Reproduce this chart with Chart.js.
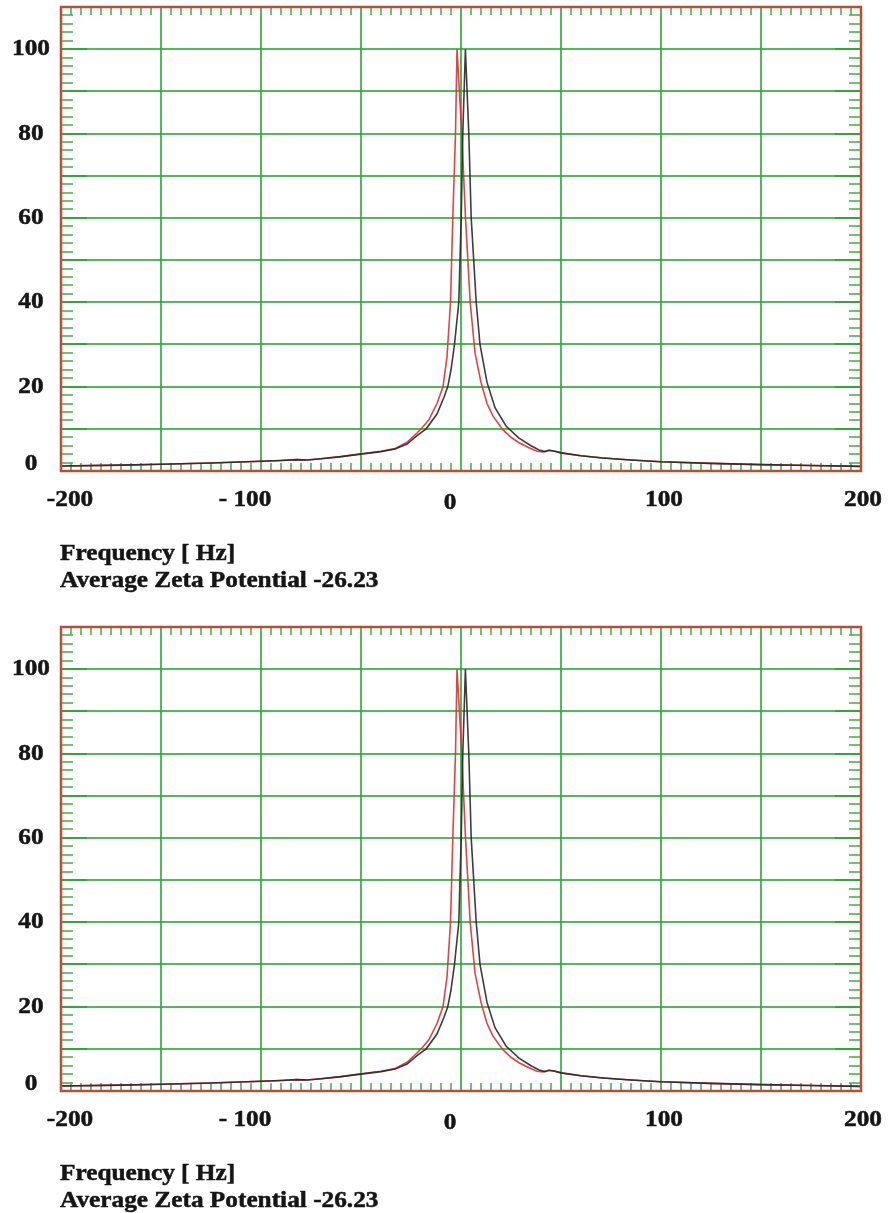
<!DOCTYPE html>
<html>
<head>
<meta charset="utf-8">
<script src="https://cdn.jsdelivr.net/npm/chart.js@4.4.1/dist/chart.umd.min.js"></script>
<style>
  html, body { margin: 0; padding: 0; background: #fff; overflow: hidden; }
  .panel { position: absolute; left: 0; width: 888px; height: 620px; }
  canvas { display: block; }
</style>
</head>
<body>
<div class="panel" style="top:0"><canvas id="chartTop" width="888" height="620"></canvas></div>
<div class="panel" style="top:620px"><canvas id="chartBottom" width="888" height="620"></canvas></div>
<script>
/* === Data === */

var redFreq = [-200, -170, -150, -125, -100, -90, -82, -77, -70, -60, -50, -40, -33, -27, -22, -19, -16, -12, -9, -7,
  -5.25, -4.1, -2.75, -2, 0.4, 2.25, 4.6, 7, 10, 13, 16, 20.9, 25, 29, 34, 38, 41, 44, 47, 50,
  60, 71, 85, 100, 125, 150, 175, 200];
var redAmp = [1.2, 1.4, 1.6, 1.9, 2.3, 2.5, 2.7, 2.6, 2.9, 3.4, 4.1, 4.7, 5.3, 6.8, 9.0, 10.5, 12.2, 16, 20, 27,
  40, 60, 80, 100, 80, 60, 40, 28, 21, 16, 13, 9.8, 8, 6.7, 5.5, 4.7, 4.5, 4.9, 4.7, 4.3,
  3.6, 3.1, 2.6, 2.2, 1.8, 1.5, 1.3, 1.1];

var blackFreq = [-200, -170, -150, -125, -100, -90, -82, -77, -70, -60, -50, -40, -33, -27, -22, -17.4, -12, -8.5, -6.6, -5,
  -3.25, -1.1, 0.1, 0.9, 2.2, 3.9, 5.1, 7.6, 9.5, 13, 17, 22.6, 29, 35, 39, 42, 44, 47, 50,
  60, 71, 85, 100, 125, 150, 175, 200];
var blackAmp = [1.2, 1.4, 1.6, 1.9, 2.3, 2.5, 2.7, 2.6, 2.9, 3.4, 4.0, 4.6, 5.2, 6.4, 8.4, 10, 13.5, 17.5, 20, 24,
  30, 40, 60, 80, 100, 80, 60, 40, 30, 21, 15, 10.6, 7.8, 6.0, 5.0, 4.6, 4.9, 4.7, 4.3,
  3.6, 3.1, 2.6, 2.2, 1.8, 1.5, 1.3, 1.1];

var xTickValues = [-200, -100, 0, 100, 200];
var xTickLabels = ['-200', '- 100', '0', '100', '200'];
var yTickValues = [0, 20, 40, 60, 80, 100];
var yTickLabels = ['0', '20', '40', '60', '80', '100'];

var xAxisTitle = 'Frequency [ Hz]';
var captionText = 'Average Zeta Potential -26.23';

/* === Style === */

var GRID = 'rgba(40,165,50,0.8)';
var MINOR = 'rgba(60,175,70,0.75)';
var FRAME = '#b4503a';
var TEXT = '#151515';
var FONT = 'bold 23px "Liberation Serif", "Times New Roman", serif';
var STRETCH = 1.1;
// small per-label nudges so the labels sit where the original put them
var xLabelNudge = [9, -16, -11, 3, 2];
var yLabelNudge = [-1, 6, 6, 6, 6, 6];

function toPoints(xs, ys) {
  return xs.map(function (x, i) { return { x: x, y: ys[i] }; });
}

function stretchText(ctx, text, x, y, align) {
  ctx.save();
  ctx.translate(x, y);
  ctx.scale(STRETCH, 1);
  ctx.textAlign = align;
  ctx.fillText(text, 0, 0);
  ctx.strokeText(text, 0, 0); // a touch heavier, like the scanned original
  ctx.restore();
}

function line(ctx, x1, y1, x2, y2) {
  ctx.beginPath();
  ctx.moveTo(x1, y1);
  ctx.lineTo(x2, y2);
  ctx.stroke();
}

var scopePlugin = {
  id: 'scope',
  beforeDatasetsDraw: function (chart) {
    var ctx = chart.ctx, a = chart.chartArea;
    var xs = chart.scales.x, ys = chart.scales.y;
    var v, p;
    ctx.save();

    // major grid every 50 Hz / 10 units
    ctx.strokeStyle = GRID;
    ctx.lineWidth = 2;
    for (v = -150; v <= 150; v += 50) {
      p = Math.round(xs.getPixelForValue(v));
      line(ctx, p, a.top, p, a.bottom);
    }
    for (v = 10; v <= 100; v += 10) {
      p = Math.round(ys.getPixelForValue(v));
      line(ctx, a.left, p, a.right, p);
      // longer ticks on both side axes
      line(ctx, a.left, p, a.left + 26, p);
      line(ctx, a.right - 26, p, a.right, p);
    }

    // minor ticks
    ctx.strokeStyle = MINOR;
    ctx.lineWidth = 2;
    for (v = -195; v < 200; v += 5) {
      if (v % 50 === 0) continue;
      p = Math.round(xs.getPixelForValue(v));
      line(ctx, p, a.top, p, a.top + 8);
      line(ctx, p, a.bottom, p, a.bottom - 8);
    }
    for (v = 2; v < 110; v += 2) {
      if (v % 10 === 0) continue;
      p = Math.round(ys.getPixelForValue(v));
      line(ctx, a.left, p, a.left + 12, p);
      line(ctx, a.right - 12, p, a.right, p);
    }
    ctx.restore();
  },
  afterDatasetsDraw: function (chart) {
    var ctx = chart.ctx, a = chart.chartArea;
    var xs = chart.scales.x, ys = chart.scales.y;
    ctx.save();
    ctx.strokeStyle = FRAME;
    ctx.lineWidth = 2.5;
    ctx.strokeRect(a.left, a.top, a.right - a.left, a.bottom - a.top);

    ctx.fillStyle = TEXT;
    ctx.strokeStyle = TEXT;
    ctx.lineWidth = 0.5;
    ctx.font = FONT;
    ctx.textBaseline = 'alphabetic';
    yTickValues.forEach(function (v, i) {
      stretchText(ctx, yTickLabels[i], 31, ys.getPixelForValue(v) + yLabelNudge[i], 'center');
    });
    xTickValues.forEach(function (v, i) {
      var y = a.bottom + (v === 0 ? 38 : 35);
      stretchText(ctx, xTickLabels[i], xs.getPixelForValue(v) + xLabelNudge[i], y, 'center');
    });
    stretchText(ctx, xAxisTitle, 60, a.bottom + 89, 'left');
    stretchText(ctx, captionText, 60, a.bottom + 116, 'left');
    ctx.restore();
  }
};

function createScopeChart(canvasId) {
  var el = document.getElementById(canvasId);
  return new Chart(el, {
    type: 'line',
    data: {
      datasets: [{
        data: toPoints(blackFreq, blackAmp),
        borderColor: 'rgba(40,40,40,0.9)',
        borderWidth: 1.6,
        pointRadius: 0,
        tension: 0
      }, {
        data: toPoints(redFreq, redAmp),
        borderColor: 'rgba(225,45,50,0.9)',
        borderWidth: 1.6,
        pointRadius: 0,
        tension: 0
      }]
    },
    options: {
      responsive: false,
      animation: false,
      layout: { padding: { left: 61, top: 7, right: 27, bottom: 149 } },
      plugins: { legend: { display: false }, tooltip: { enabled: false } },
      scales: {
        x: { type: 'linear', min: -200, max: 200, display: false },
        y: { type: 'linear', min: 0, max: 110, display: false }
      }
    },
    plugins: [scopePlugin]
  });
}

createScopeChart('chartTop');
createScopeChart('chartBottom');
</script>
</body>
</html>
